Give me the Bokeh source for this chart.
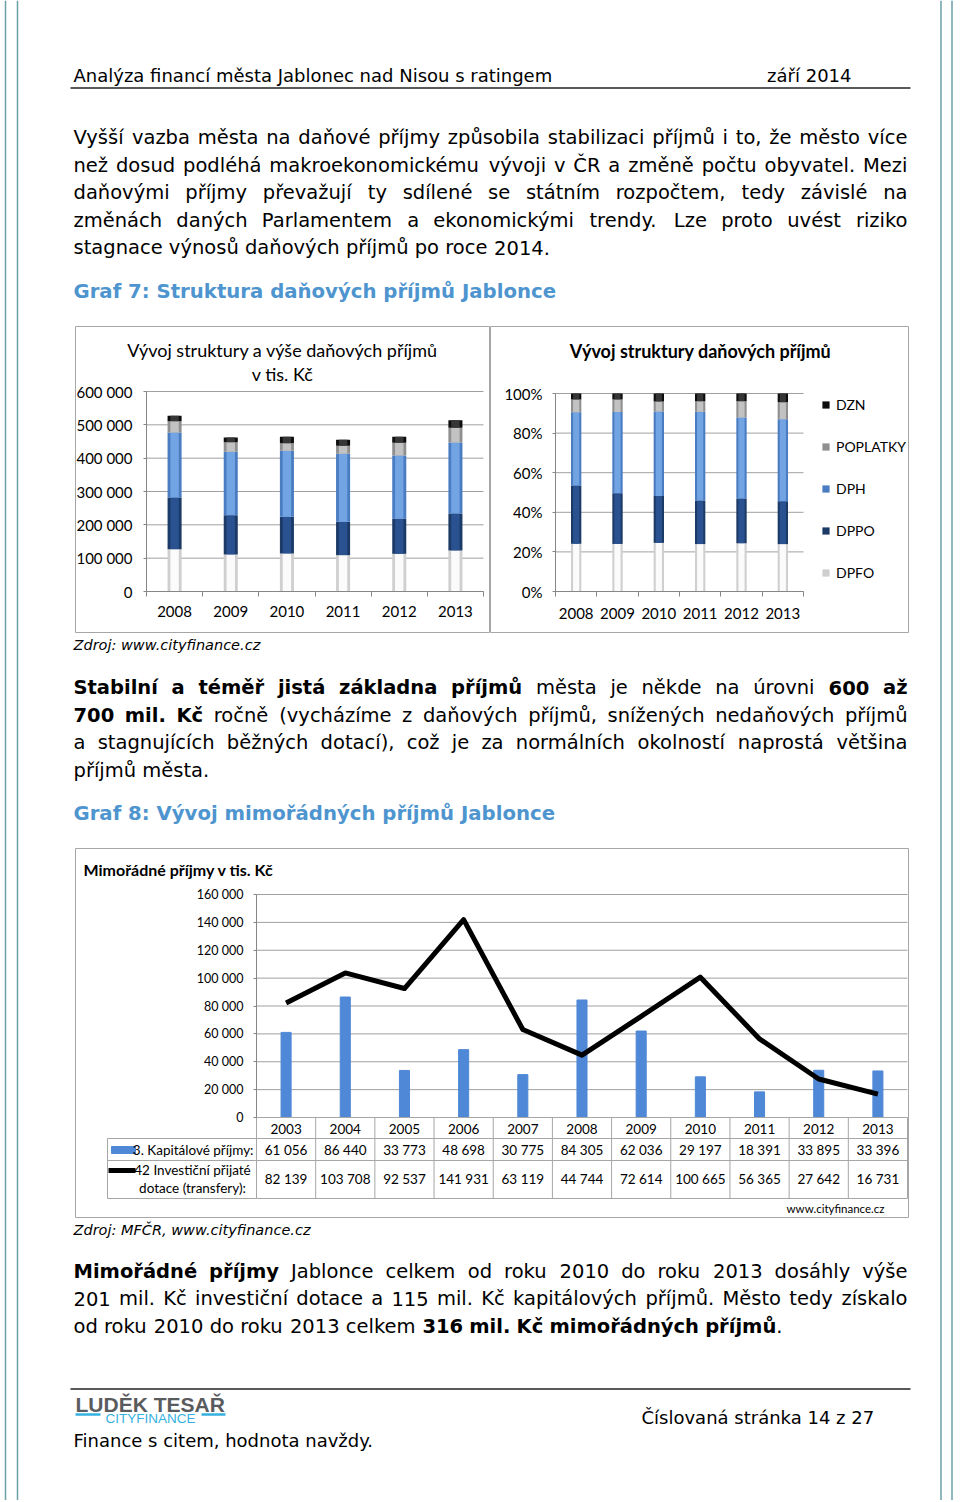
import unicodedata
from bokeh.plotting import figure
from bokeh.models import (Range1d, FixedTicker, Legend, LegendItem, ColumnDataSource, Spacer)
from bokeh.layouts import row, column
from bokeh.core.properties import value
from bokeh.embed import file_html
from bokeh.resources import INLINE

# ---------------- chart data ----------------
TAX_YEARS = ["2008", "2009", "2010", "2011", "2012", "2013"]
TAX_SERIES = ["DPFO", "DPPO", "DPH", "POPLATKY", "DZN"]
DPFO = [127000, 111000, 114000, 109000, 113000, 123000]
DPPO = [155000, 118000, 110000, 100000, 105000, 111000]
DPH = [195000, 190000, 198000, 204000, 190000, 213000]
POPLATKY = [34000, 29000, 23000, 24000, 38000, 44000]
DZN = [16000, 14000, 19000, 18000, 18000, 23000]
TAX_TICKS = [0, 100000, 200000, 300000, 400000, 500000, 600000]
PCT_TICKS = [0, 20, 40, 60, 80, 100]

EXTRA_YEARS = ["2003", "2004", "2005", "2006", "2007", "2008", "2009",
               "2010", "2011", "2012", "2013"]
CAPITAL = [61056, 86440, 33773, 48698, 30775, 84305, 62036, 29197, 18391, 33895, 33396]
INVEST = [82139, 103708, 92537, 141931, 63119, 44744, 72614, 100665, 56365, 27642, 16731]
EXTRA_TICKS = [0, 20000, 40000, 60000, 80000, 100000, 120000, 140000, 160000]
CAPITAL_LABEL = "3. Kapitálové příjmy:"
INVEST_LABEL = ["42 Investiční přijaté", "dotace (transfery):"]

# ---------------- page texts ----------------
HEADER_L = "Analýza financí města Jablonec nad Nisou s ratingem"
HEADER_R = "září 2014"
P1 = [
    "Vyšší vazba města na daňové příjmy způsobila stabilizaci příjmů i to, že město více",
    "než dosud podléhá makroekonomickému vývoji v ČR a změně počtu obyvatel. Mezi",
    "daňovými příjmy převažují ty sdílené se státním rozpočtem, tedy závislé na",
    "změnách daných Parlamentem a ekonomickými trendy. Lze proto uvést riziko",
    "stagnace výnosů daňových příjmů po roce 2014.",
]
HEAD7 = "Graf 7: Struktura daňových příjmů Jablonce"
SRC7 = "Zdroj: www.cityfinance.cz"
P2 = [
    "**Stabilní a téměř jistá základna příjmů** města je někde na úrovni **600 až**",
    "**700 mil. Kč** ročně (vycházíme z daňových příjmů, snížených nedaňových příjmů",
    "a stagnujících běžných dotací), což je za normálních okolností naprostá většina",
    "příjmů města.",
]
HEAD8 = "Graf 8: Vývoj mimořádných příjmů Jablonce"
SRC8 = "Zdroj: MFČR, www.cityfinance.cz"
P3 = [
    "**Mimořádné příjmy** Jablonce celkem od roku 2010 do roku 2013 dosáhly výše",
    "201 mil. Kč investiční dotace a 115 mil. Kč kapitálových příjmů. Město tedy získalo",
    "od roku 2010 do roku 2013 celkem **316 mil. Kč mimořádných příjmů**.",
]
FOOT_LOGO = "LUDĚK TESAŘ"
FOOT_SUB = "CITYFINANCE"
FOOT_MOTTO = "Finance s citem, hodnota navždy."
FOOT_PAGE = "Číslovaná stránka 14 z 27"
CH1_TITLE = ["Vývoj struktury a výše daňových příjmů", "v tis. Kč"]
CH2_TITLE = "Vývoj struktury daňových příjmů"
CH3_TITLE = "Mimořádné příjmy v tis. Kč"
CH3_WWW = "www.cityfinance.cz"

# ---------------- styles ----------------
TXT = "DejaVu Sans"
CF = "Lato"
BLUE_HEAD = "#4e95cf"
BORDER = "#6aa0a8"
MAIN_COL = ["#cfcfcf", "#1c3a66", "#4a7cc2", "#8f8f8f", "#0d0d0d"]
HI_COL = ["#fbfbfb", "#2a5290", "#72a3e2", "#c2c2c2", "#363636"]
GRID = "#a0a0a0"
AXIS = "#868686"
BOX = "#a6a6a6"
BAR3 = "#4f88d6"

# approximate DejaVu Sans advance widths (units of 1/2048 em) for justification
_RL = [1255, 1300, 1126, 1300, 1260, 721, 1300, 1298, 569, 569, 1186, 569, 1995,
       1298, 1253, 1300, 1300, 842, 1067, 803, 1298, 1212, 1675, 1212, 1212, 1075]
_RU = [1401, 1405, 1430, 1577, 1294, 1178, 1587, 1540, 604, 604, 1343, 1141, 1767,
       1532, 1612, 1235, 1612, 1423, 1300, 1251, 1499, 1401, 2025, 1403, 1251, 1403]
_BL = [1382, 1466, 1214, 1466, 1389, 891, 1466, 1458, 702, 702, 1362, 702, 2134,
       1458, 1407, 1466, 1466, 1010, 1219, 979, 1458, 1331, 1839, 1325, 1331, 1192]
_BU = [1585, 1561, 1501, 1694, 1399, 1399, 1678, 1715, 764, 764, 1589, 1305, 2038,
       1715, 1741, 1501, 1741, 1585, 1473, 1403, 1669, 1585, 2257, 1581, 1485, 1489]
LOW = "abcdefghijklmnopqrstuvwxyz"
REG = dict(zip(LOW, _RL)); REG.update(zip(LOW.upper(), _RU))
REG.update({" ": 651, ".": 651, ",": 651, ":": 690, "(": 799, ")": 799})
REG.update({d: 1303 for d in "0123456789"})
BOLD = dict(zip(LOW, _BL)); BOLD.update(zip(LOW.upper(), _BU))
BOLD.update({" ": 713, ".": 780, ",": 780, ":": 819, "(": 934, ")": 934})
BOLD.update({d: 1425 for d in "0123456789"})


def tw(s, bold, size):
    tbl = BOLD if bold else REG
    return size * sum(tbl.get(unicodedata.normalize("NFD", c)[0], 1250) for c in s) / 2048.0


def parse(line):
    words, cur = [], []
    for k, seg in enumerate(line.split("**")):
        b = (k % 2 == 1)
        for j, part in enumerate(seg.split(" ")):
            if j > 0 and cur:
                words.append(cur)
                cur = []
            if part:
                cur.append((part, b))
    if cur:
        words.append(cur)
    return words


class Writer:
    """Collects text in page coordinates and draws it in a figure whose origin is (ox, oy)."""

    def __init__(self, p, ox, oy, xr="default", yr="default"):
        self.p, self.ox, self.oy, self.xr, self.yr = p, ox, oy, xr, yr
        self.groups = {}

    def add(self, x, y, s, size, style="normal", color="#000000", align="left",
            font=TXT, baseline="alphabetic"):
        g = self.groups.setdefault((size, style, color, align, font, baseline),
                                   dict(x=[], y=[], text=[]))
        g["x"].append(x - self.ox)
        g["y"].append(y - self.oy)
        g["text"].append(s)

    def paragraph(self, lines, baselines, left, right, size):
        for i, (line, by) in enumerate(zip(lines, baselines)):
            words = parse(line)
            widths = [sum(tw(t, b, size) for t, b in w) for w in words]
            justify = i < len(lines) - 1 and len(words) > 1
            gap = (right - left - sum(widths)) / (len(words) - 1) if justify else tw(" ", False, size)
            x = left
            for n, (w, ww) in enumerate(zip(words, widths)):
                if justify and n == len(words) - 1:
                    px = right
                    for t, b in reversed(w):
                        self.add(px, by, t, size, "bold" if b else "normal", align="right")
                        px -= tw(t, b, size)
                else:
                    px = x
                    for t, b in w:
                        self.add(px, by, t, size, "bold" if b else "normal")
                        px += tw(t, b, size)
                x += ww + gap

    def flush(self):
        for (size, style, color, align, font, baseline), g in self.groups.items():
            self.p.text(x="x", y="y", text="text", source=ColumnDataSource(g),
                        text_font=value(font), text_font_size=f"{size}px",
                        text_font_style=style, text_color=color, text_align=align,
                        text_baseline=baseline, x_range_name=self.xr, y_range_name=self.yr)


def page_fig(w, h):
    p = figure(width=w, height=h, x_range=Range1d(0, w), y_range=Range1d(h, 0),
               output_backend="svg", toolbar_location=None, min_border=0,
               x_axis_location=None, y_axis_location=None, title_location=None)
    p.grid.visible = False
    p.outline_line_color = None
    p.background_fill_color = "white"
    p.border_fill_color = "white"
    return p


def lin_range(v0, v1, p0, p1, f0, f1):
    """value v0 sits at pixel p0 and v1 at pixel p1: return the values at frame pixels f0, f1."""
    k = (v1 - v0) / (p1 - p0)
    return v0 + (f0 - p0) * k, v0 + (f1 - p0) * k


def chart_fig(org, w, h, plot, xvals, yvals):
    """Figure whose frame is the whole chart box; plot=(left, right, top, bottom) page px."""
    l, r, t, b = plot
    xs, xe = lin_range(xvals[0], xvals[1], l, r, org[0], org[0] + w)
    ys, ye = lin_range(yvals[0], yvals[1], b, t, org[1] + h, org[1])
    p = figure(width=w, height=h, x_range=Range1d(xs, xe), y_range=Range1d(ys, ye),
               output_backend="svg", toolbar_location=None, title_location=None,
               min_border=0)
    p.extra_x_ranges = {"px": Range1d(0, w)}
    p.extra_y_ranges = {"px": Range1d(h, 0)}
    p.grid.visible = False
    p.outline_line_color = BOX
    p.outline_line_width = 1
    p.background_fill_color = "white"
    p.border_fill_color = "white"
    return p


def style_axes(p, size):
    for ax in p.axis:
        ax.axis_line_color = AXIS
        ax.major_tick_line_color = AXIS
        ax.major_label_text_font = CF
        ax.major_label_text_font_size = f"{size}px"
        ax.major_label_text_color = "#000000"
        ax.minor_tick_line_color = None


def fmt_thousands(v):
    return f"{v:,}".replace(",", " ")


def setup_cat_x(p, n, years, standoff):
    ax = p.xaxis[0]
    ax.fixed_location = 0
    ax.bounds = (-0.5, n - 0.5)
    ax.ticker = FixedTicker(ticks=list(range(n)), minor_ticks=[i - 0.5 for i in range(n + 1)])
    ax.major_label_overrides = {i: y for i, y in enumerate(years)}
    ax.major_tick_line_color = None
    ax.major_tick_out = 0
    ax.major_tick_in = 0
    ax.minor_tick_line_color = AXIS
    ax.minor_tick_out = 5
    ax.minor_tick_in = 0
    ax.major_label_standoff = standoff


def setup_val_y(p, ticks, labels, standoff, n):
    ax = p.yaxis[0]
    ax.fixed_location = -0.5
    ax.bounds = (ticks[0], ticks[-1])
    ax.ticker = FixedTicker(ticks=ticks)
    ax.major_label_overrides = labels
    ax.major_tick_out = 3
    ax.major_tick_in = 0
    ax.major_label_standoff = standoff
    p.segment(x0=[-0.5] * len(ticks), x1=[n - 0.5] * len(ticks), y0=ticks, y1=ticks,
              line_color=GRID, line_width=1, level="underlay")


PAGE_H = 1500
TEXT_L, TEXT_R = 73, 907
CX = 68  # left of the central column

# ---------------- page borders ----------------
left_b = page_fig(CX, PAGE_H)
left_b.segment(x0=[5, 17], y0=[0, 0], x1=[5, 17], y1=[PAGE_H, PAGE_H], line_color=BORDER, line_width=1.5)
right_b = page_fig(47, PAGE_H)
right_b.segment(x0=[28.5, 39.5], y0=[0, 0], x1=[28.5, 39.5], y1=[PAGE_H, PAGE_H],
                line_color=BORDER, line_width=1.5)

# ---------------- text block A ----------------
OA = (CX, 0)
fa = page_fig(844, 326)
wa = Writer(fa, *OA)
wa.add(73, 75, HEADER_L, 18)
wa.add(851, 75, HEADER_R, 18, align="right")
fa.segment(x0=[70 - OA[0]], y0=[87.5 - OA[1]], x1=[910 - OA[0]], y1=[87.5 - OA[1]],
           line_color="#595959", line_width=2)
wa.paragraph(P1, [137, 164.5, 192, 219.5, 247], TEXT_L, TEXT_R, 19.5)
wa.add(73, 291, HEAD7, 19.7, "bold", BLUE_HEAD)
wa.flush()

# ---------------- chart 1: stacked values ----------------
n_tax = len(TAX_YEARS)
xs_tax = list(range(n_tax))
O1 = (75, 326)
p1 = chart_fig(O1, 415, 307, (146, 483, 391, 591), (-0.5, n_tax - 0.5), (0, TAX_TICKS[-1]))
src1 = ColumnDataSource(dict(x=xs_tax, DPFO=DPFO, DPPO=DPPO, DPH=DPH, POPLATKY=POPLATKY, DZN=DZN))
p1.vbar_stack(TAX_SERIES, x="x", width=0.25, color=MAIN_COL, line_color=None, source=src1)
p1.vbar_stack(TAX_SERIES, x="x", width=0.15, color=HI_COL, line_color=None, source=src1)
style_axes(p1, 15)
setup_val_y(p1, TAX_TICKS, {t: fmt_thousands(t) for t in TAX_TICKS}, 11, n_tax)
setup_cat_x(p1, n_tax, TAX_YEARS, 9)
w1 = Writer(p1, *O1, xr="px", yr="px")
w1.add(282, 349, CH1_TITLE[0], 18, align="center", font=CF, baseline="middle")
w1.add(282, 373, CH1_TITLE[1], 18, align="center", font=CF, baseline="middle")
w1.flush()

# ---------------- chart 2: 100% stacked ----------------
totals = [sum(v) for v in zip(DPFO, DPPO, DPH, POPLATKY, DZN)]
pct = {name: [v / t * 100 for v, t in zip(vals, totals)]
       for name, vals in zip(TAX_SERIES, [DPFO, DPPO, DPH, POPLATKY, DZN])}
src2 = ColumnDataSource(dict(x=xs_tax, **pct))
O2 = (490, 326)
p2 = chart_fig(O2, 419, 307, (555, 803, 393, 591), (-0.5, n_tax - 0.5), (0, PCT_TICKS[-1]))
r2 = p2.vbar_stack(TAX_SERIES, x="x", width=0.25, color=MAIN_COL, line_color=None, source=src2)
p2.vbar_stack(TAX_SERIES, x="x", width=0.15, color=HI_COL, line_color=None, source=src2)
style_axes(p2, 15)
setup_val_y(p2, PCT_TICKS, {t: f"{t}%" for t in PCT_TICKS}, 10, n_tax)
setup_cat_x(p2, n_tax, TAX_YEARS, 11)
items = [LegendItem(label=value(name), renderers=[r]) for name, r in zip(TAX_SERIES, r2)][::-1]
leg = Legend(items=items, location=(331, 51), orientation="vertical", padding=0, margin=0,
             spacing=22, label_height=20, glyph_height=9, glyph_width=9, label_standoff=6,
             border_line_alpha=0, background_fill_alpha=0,
             label_text_font=CF, label_text_font_size="14px", label_text_color="#000000")
p2.add_layout(leg)
w2 = Writer(p2, *O2, xr="px", yr="px")
w2.add(700, 350, CH2_TITLE, 18, "bold", align="center", font=CF, baseline="middle")
w2.flush()

chart_row = row(Spacer(width=7, height=307), p1, p2, Spacer(width=3, height=307))

# ---------------- text block B ----------------
OB = (CX, 633)
fb = page_fig(844, 215)
wb = Writer(fb, *OB)
wb.add(73, 644, SRC7, 14.5, "italic")
wb.paragraph(P2, [687, 714.5, 742, 769.5], TEXT_L, TEXT_R, 19.5)
wb.add(73, 813, HEAD8, 19.7, "bold", BLUE_HEAD)
wb.flush()

# ---------------- chart 3: extraordinary income ----------------
n_ex = len(EXTRA_YEARS)
xs_ex = list(range(n_ex))
O3 = (75, 848)
p3 = chart_fig(O3, 834, 370, (256, 907, 894, 1117), (-0.5, n_ex - 0.5), (0, EXTRA_TICKS[-1]))
p3.vbar(x=xs_ex, top=CAPITAL, width=0.17, color=BAR3)
p3.line(x=xs_ex, y=INVEST, line_width=5, line_color="#000000", line_join="round")
style_axes(p3, 12.5)
setup_val_y(p3, EXTRA_TICKS, {t: fmt_thousands(t) for t in EXTRA_TICKS}, 10, n_ex)
p3.xaxis.visible = False

# data table under the plot (x in data units, y in page px relative to the chart)
TBL_LINES = [1117 - O3[1], 1138 - O3[1], 1160 - O3[1], 1198 - O3[1]]
TBL_TEXT = [1128 - O3[1], 1149 - O3[1], 1178 - O3[1]]
bounds = [i - 0.5 for i in range(n_ex + 1)]
p3.segment(x0=[-0.5] * 4, x1=[n_ex - 0.5] * 4, y0=TBL_LINES, y1=TBL_LINES,
           y_range_name="px", line_color=BOX, line_width=1)
p3.segment(x0=bounds, x1=bounds, y0=[TBL_LINES[0]] * len(bounds), y1=[TBL_LINES[-1]] * len(bounds),
           y_range_name="px", line_color=BOX, line_width=1)
for row_y, texts in zip(TBL_TEXT, [EXTRA_YEARS, [fmt_thousands(v) for v in CAPITAL],
                                   [fmt_thousands(v) for v in INVEST]]):
    p3.text(x=xs_ex, y=[row_y] * n_ex, text=texts, y_range_name="px",
            text_font=value(CF), text_font_size="13.5px", text_align="center",
            text_baseline="middle")
# label column of the table (page px)
lx0, lx1 = 107 - O3[0], 256 - O3[0]
p3.segment(x0=[lx0] * 3 + [lx0], x1=[lx1] * 3 + [lx0],
           y0=TBL_LINES[1:] + [TBL_LINES[1]], y1=TBL_LINES[1:] + [TBL_LINES[-1]],
           x_range_name="px", y_range_name="px", line_color=BOX, line_width=1)
p3.quad(left=[111 - O3[0]], right=[135 - O3[0]], top=[1146 - O3[1]], bottom=[1153 - O3[1]],
        x_range_name="px", y_range_name="px", color=BAR3)
p3.segment(x0=[108 - O3[0]], x1=[135 - O3[0]], y0=[1170 - O3[1]], y1=[1170 - O3[1]],
           x_range_name="px", y_range_name="px", line_color="#000000", line_width=5)
w3 = Writer(p3, *O3, xr="px", yr="px")
w3.add(253, 1149, CAPITAL_LABEL, 13.5, align="right", font=CF, baseline="middle")
w3.add(192, 1169, INVEST_LABEL[0], 13.5, align="center", font=CF, baseline="middle")
w3.add(192, 1187, INVEST_LABEL[1], 13.5, align="center", font=CF, baseline="middle")
w3.add(83, 869, CH3_TITLE, 16, "bold", align="left", font=CF, baseline="middle")
w3.add(835, 1208, CH3_WWW, 11.5, align="center", font=CF, baseline="middle")
w3.flush()

chart3_row = row(Spacer(width=7, height=370), p3, Spacer(width=3, height=370))

# ---------------- text block C ----------------
OC = (CX, 1218)
fc = page_fig(844, 282)
wc = Writer(fc, *OC)
wc.add(73, 1229, SRC8, 14.5, "italic")
wc.paragraph(P3, [1270.5, 1298, 1325.5], TEXT_L, TEXT_R, 19.5)
fc.segment(x0=[70 - OC[0]], y0=[1388.5 - OC[1]], x1=[910 - OC[0]], y1=[1388.5 - OC[1]],
           line_color="#595959", line_width=2)
wc.add(75, 1404, FOOT_LOGO, 21, "bold", "#5a5b5d", font="Liberation Sans")
wc.add(150, 1418, FOOT_SUB, 13.5, "normal", "#35b1df", align="center", font="Liberation Sans")
fc.segment(x0=[75 - OC[0], 201 - OC[0]], y0=[1414 - OC[1]] * 2, x1=[100 - OC[0], 225 - OC[0]],
           y1=[1414 - OC[1]] * 2, line_color="#35b1df", line_width=2.5)
wc.add(73, 1440, FOOT_MOTTO, 18)
wc.add(641, 1417, FOOT_PAGE, 18)
wc.flush()

center = column(fa, chart_row, fb, chart3_row, fc)
root = row(left_b, center, right_b)

open("out.html", "w").write(file_html(root, INLINE, title="Graf 7 a Graf 8"))
